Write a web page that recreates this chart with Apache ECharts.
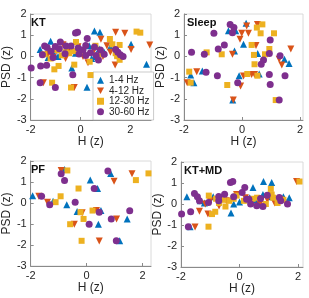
<!DOCTYPE html>
<html><head><meta charset="utf-8">
<script src="https://cdn.jsdelivr.net/npm/echarts@6/dist/echarts.min.js"></script>
<style>html,body{margin:0;padding:0;background:#fff}#c{width:309px;height:298px}</style>
</head><body><div id="c"></div>
<script>
const panelTitles = ['KT','Sleep','PF','KT+MD'];
const bandNames = ['1-4 Hz','4-12 Hz','12-30 Hz','30-60 Hz'];
const xTicks = [-2,0,2];
const yTicks = [-3,-2,-1,0,1,2];

// KT panel [H, PSD]
const KT_1_4 = [[-1.62,0.33],[-1.20,0.71],[-1.05,0.10],[-0.9,0.0],[-0.6,0.3],[-0.35,-0.55],[-0.2,0.15],[0.05,0.3],[0.26,-1.46],[0.35,0.5],[0.56,1.20],[0.78,1.14],[0.6,0.0],[0.75,0.35],[0.95,0.2],[1.2,0.45],[1.5,0.1],[2.03,0.57],[2.65,-0.37],[-1.3,-0.05],[0.45,-0.1]];
const KT_4_12 = [[-1.49,-1.24],[-1.3,0.1],[-1.1,-0.05],[-0.95,0.25],[-0.7,0.55],[-0.45,0.2],[-0.25,-1.47],[-0.1,0.45],[0.1,0.0],[0.3,-0.3],[0.55,0.3],[0.82,0.81],[1.06,0.50],[1.41,1.14],[1.78,1.09],[2.03,0.33],[2.78,0.54],[1.39,-0.41],[0.9,0.0],[-0.6,-0.1],[1.2,0.2]];
const KT_12_30 = [[-1.45,0.1],[-1.14,-1.24],[-1.05,-0.61],[-0.88,-0.45],[-0.95,0.3],[-0.75,0.05],[-0.6,0.2],[-0.45,0.15],[-0.38,-1.47],[-0.25,-0.39],[-0.18,0.68],[-0.1,0.3],[0.1,0.25],[0.37,-0.25],[0.40,-0.88],[0.6,0.5],[1.18,0.82],[1.28,0.57],[1.57,0.54],[1.41,0.15],[1.47,0.01],[1.57,-0.16],[2.25,1.17],[2.4,1.12],[0.85,0.1],[-1.2,-0.1],[-0.3,0.25]];
const KT_30_60 = [[-1.98,-0.55],[-1.60,-0.45],[-1.62,-1.24],[-1.36,-0.42],[-1.01,-1.47],[-1.44,0.49],[-1.34,0.42],[-1.53,0.08],[-1.18,0.24],[-1.01,0.47],[-0.81,0.68],[-0.85,0.36],[-0.62,0.13],[-0.58,0.49],[-0.38,0.49],[-0.31,-0.86],[-0.12,1.14],[-0.2,1.1],[-0.09,0.40],[-0.06,0.11],[0.21,0.52],[0.27,0.85],[0.21,0.04],[0.40,0.17],[0.56,0.44],[0.63,0.04],[0.72,-0.17],[0.8,0.3],[0.95,0.1],[1.41,0.33],[1.5,0.19],[1.6,0.08],[1.71,0.0],[-1.1,-0.05],[0.1,0.3]];

// Sleep panel
const SL_1_4 = [[0.14,1.56],[-0.47,1.21],[-0.22,1.21],[-0.26,0.25],[0.05,0.57],[1.46,-0.14],[1.62,-0.33],[2.11,0.41],[0.54,0.14],[-1.77,-0.88],[-1.37,-0.69],[-1.66,-1.24],[-0.10,-0.91],[0.59,-0.83],[-0.32,-2.06]];
const SL_4_12 = [[0.16,1.43],[0.53,1.51],[-0.01,1.09],[0.22,1.09],[-0.07,0.81],[0.48,0.51],[-0.33,0.10],[1.28,-0.14],[1.37,-0.41],[1.68,0.35],[-1.56,-0.72],[-1.89,-1.24],[0.05,-0.93],[-0.05,-1.40],[0.33,-0.85],[0.43,-0.85],[-0.30,-2.06]];
const SL_12_30 = [[0.70,1.51],[0.51,1.36],[0.64,1.09],[1.10,1.09],[0.33,0.54],[-1.22,0.19],[-0.70,0.10],[0.41,0.07],[0.79,0.10],[0.94,0.35],[0.43,-0.37],[-1.82,-0.72],[-2.08,-0.88],[-1.77,-1.24],[0.18,-0.83],[0.53,-0.91],[-0.51,-1.35],[1.16,-2.06]];
const SL_30_60 = [[-0.41,1.51],[-0.28,1.36],[-0.33,1.12],[-0.97,1.09],[-0.61,0.54],[-0.82,0.35],[-1.74,0.19],[-1.30,0.10],[-1.24,-0.75],[-0.85,-0.91],[-0.15,-1.24],[0.97,0.77],[0.74,-0.17],[0.66,-0.37],[0.94,0.14],[1.31,0.03],[0.94,-0.85],[0.97,-1.32],[1.48,-0.91],[1.28,-2.06]];

// PF panel
const PF_1_4 = [[-1.93,0.35],[-0.79,1.60],[0.13,1.09],[0.86,1.41],[0.39,0.69],[-1.20,0.08],[-0.71,-0.08],[-0.34,-0.40],[0.51,-0.36],[0.42,-1.01],[1.45,-0.76],[1.18,-1.80]];
const PF_4_12 = [[-0.91,1.55],[0.98,1.04],[1.62,1.39],[-1.71,0.32],[-1.40,0.04],[-0.16,-0.46],[0.35,-0.36],[-0.44,-1.01],[1.07,-0.76],[0.45,-1.81]];
const PF_12_30 = [[-0.69,1.55],[2.21,1.41],[1.76,1.09],[-0.29,0.69],[-0.93,0.32],[-1.11,0.04],[-0.22,-0.44],[-0.11,-0.76],[0.21,-0.36],[-0.59,-1.01],[-0.18,-1.80]];
const PF_30_60 = [[0.76,1.52],[-0.91,1.39],[-0.79,1.07],[-1.61,0.32],[-1.32,-0.08],[-0.41,0.03],[0.27,0.69],[0.45,-0.44],[0.09,-1.01],[0.88,-0.76],[1.54,-0.37],[1.06,-1.80]];

// KT+MD panel
const MD_1_4 = [[-1.80,0.34],[-1.69,-1.08],[-1.34,0.15],[-1.2,0.05],[-0.9,0.35],[-0.5,0.3],[-0.29,-0.43],[0.0,0.1],[0.35,0.3],[0.46,0.78],[0.55,0.2],[0.82,1.07],[0.8,0.45],[1.10,1.02],[1.1,0.35],[1.5,0.35],[1.7,0.3],[0.6,0.0],[-0.2,0.0]];
const MD_4_12 = [[-1.52,-1.10],[-1.37,-0.35],[-1.08,-0.48],[-1.17,0.0],[-1.0,0.15],[-0.45,0.15],[-0.1,0.45],[0.2,0.3],[0.45,0.2],[0.95,0.2],[1.2,0.05],[1.95,1.07],[0.7,0.0],[-0.7,-0.1],[1.4,0.2]];
const MD_12_30 = [[2.05,1.07],[2.22,0.99],[-1.06,-1.08],[-0.83,-0.37],[-0.94,-0.48],[-0.48,-0.12],[-1.05,0.4],[-0.8,0.25],[-0.55,0.2],[-0.35,0.15],[-0.1,0.4],[0.45,0.25],[1.07,0.72],[1.1,0.45],[1.15,0.3],[1.5,0.2],[-0.7,0.05],[0.15,0.15],[0.9,0.0],[1.3,0.05],[-0.2,0.25],[0.6,0.3]];
const MD_30_60 = [[-1.98,-0.48],[-1.67,-0.37],[-1.75,-1.08],[-1.54,0.50],[-1.44,0.34],[-1.37,0.15],[-0.71,0.36],[-0.71,0.15],[-0.51,0.47],[-0.31,1.02],[-0.23,1.07],[-0.20,0.34],[0.09,0.55],[0.18,0.78],[0.24,0.23],[0.32,0.23],[0.38,0.0],[0.59,-0.08],[0.72,0.26],[0.80,-0.12],[0.95,0.42],[1.36,0.31],[1.41,0.15],[1.64,0.0],[-1.06,0.07]];

const panelData = [
  [KT_1_4, KT_4_12, KT_12_30, KT_30_60],
  [SL_1_4, SL_4_12, SL_12_30, SL_30_60],
  [PF_1_4, PF_4_12, PF_12_30, PF_30_60],
  [MD_1_4, MD_4_12, MD_12_30, MD_30_60]
];

const colors = ['#0072BD','#D95319','#EDB120','#7E2F8E'];
const symbols = ['triangle','path://M0,0 L10,0 L5,9 Z','rect','circle'];
const sizes = [7,7,6,7];

const grids = [
  {left:28, top:14, width:123, height:106, xmax:2.83},
  {left:184, top:14, width:119, height:106, xmax:2.1},
  {left:28, top:161, width:123, height:105, xmax:2.3},
  {left:181, top:162, width:122, height:105, xmax:2.17}
];
const font = 'Liberation Sans, Arial, sans-serif';
const txt = '#262626';

const option = {
  animation:false,
  textStyle:{fontFamily:font},
  title: grids.map((g,i)=>({text:panelTitles[i], left:g.left+3, top:g.top+3, padding:0,
    textStyle:{fontSize:11, fontWeight:'bold', color:'#111', fontFamily:font}})),
  legend:{orient:'vertical', left:93, top:72, width:58, padding:[3,4,3,4], itemGap:0,
    itemWidth:7, itemHeight:7, data:bandNames, backgroundColor:'#fff',
    borderColor:'#aaa', borderWidth:0.6, borderRadius:0,
    textStyle:{fontSize:10, color:txt, fontFamily:font, lineHeight:10.5}},
  grid: grids.map(g=>({left:g.left, top:g.top, width:g.width, height:g.height, show:true,
    borderColor:'#d0d0d0', borderWidth:0.8, backgroundColor:'transparent'})),
  xAxis: grids.map((g,i)=>({type:'value', gridIndex:i, min:-2, max:g.xmax, interval:2,
    name:'H (z)', nameLocation:'middle', nameGap:i<2?16:15,
    nameTextStyle:{fontSize:12, color:txt, fontFamily:font},
    axisLine:{show:true, onZero:false, lineStyle:{color:'#8a8a8a', width:1}},
    axisTick:{show:true, inside:true, length:3, customValues:xTicks, lineStyle:{color:'#8a8a8a'}},
    axisLabel:{customValues:xTicks, fontSize:11, color:txt, margin:4, fontFamily:font},
    splitLine:{show:false}})),
  yAxis: grids.map((g,i)=>({type:'value', gridIndex:i, min:-3, max:2, interval:1,
    name:'PSD (z)', nameLocation:'middle', nameGap:16,
    nameTextStyle:{fontSize:12, color:txt, fontFamily:font},
    axisLine:{show:true, onZero:false, lineStyle:{color:'#8a8a8a', width:1}},
    axisTick:{show:true, inside:true, length:3, lineStyle:{color:'#8a8a8a'}},
    axisLabel:{fontSize:11, color:txt, margin:4, fontFamily:font},
    splitLine:{show:false}})),
  series: []
};
panelData.forEach((sets,p)=>{
  sets.forEach((d,k)=>{
    option.series.push({type:'scatter', name:bandNames[k], xAxisIndex:p, yAxisIndex:p,
      data:d, symbol:symbols[k], symbolSize:sizes[k], z:2+k,
      itemStyle:{color:colors[k], opacity:1}});
  });
});
const chart = echarts.init(document.getElementById('c'), null, {renderer:'canvas'});
chart.setOption(option);
</script></body></html>
